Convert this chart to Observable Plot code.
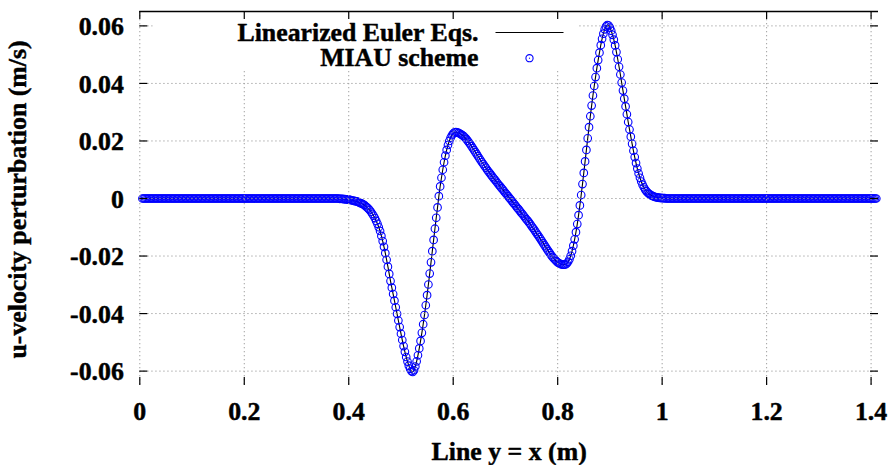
<!DOCTYPE html>
<html>
<head>
<meta charset="utf-8">
<script src="https://cdn.jsdelivr.net/npm/d3@7"></script>
<script src="https://cdn.jsdelivr.net/npm/@observablehq/plot@0.6"></script>
<style>
  html, body { margin: 0; padding: 0; background: #fff; }
  #chart svg { display: block; }
</style>
</head>
<body>
<div id="chart"></div>
<script>
// ---- data ----
const xStep = 0.0025;
// u-velocity perturbation along the line y = x, sampled every xStep
const flatLeftStart = 0.005;
const flatLeft = [
0,0,0,0,0,0,0,0,0,0,0,0,0,0,0,0,0,0,0,0,
0,0,0,0,0,0,0,0,0,0,0,0,0,0,0,0,0,0,0,0,
0,0,0,0,0,0,0,0,0,0,0,0,0,0,0,0,0,0,0,0,
0,0,0,0,0,0,0,0,0,0,0,0,0,0,0,0,0,0,0,0,
0,0,0,0,0,0,0,0,0,0,0,0,0,0,0,0,0,0,0,0,
0,0,0,0,0,0,0,0,0,0,0,0,0,0,0,0,0,0,0,0,
0,0,0,0,0,0,0,0,0,0,0,0,0,0,0,0,0,0,0,0,
0,0,0,0,0,0,0,0,0,0,0
];
const pulseStart = 0.3825;
const pulse = [
-0.0001,-0.0001,-0.0001,
-0.0002,-0.0002,-0.0003,-0.0003,
-0.0004,-0.0005,-0.0006,-0.0007,
-0.0008,-0.0009,-0.0010,-0.0012,
-0.0014,-0.0016,-0.0018,-0.0020,
-0.0023,-0.0027,-0.0031,-0.0035,
-0.0040,-0.0046,-0.0053,-0.0060,
-0.0068,-0.0078,-0.0088,-0.0100,
-0.0113,-0.0130,-0.0148,-0.0168,
-0.0190,-0.0213,-0.0237,-0.0262,
-0.0287,-0.0310,-0.0332,-0.0355,
-0.0378,-0.0401,-0.0424,-0.0447,
-0.0470,-0.0492,-0.0513,-0.0533,
-0.0551,-0.0567,-0.0581,-0.0592,
-0.0600,-0.0603,-0.0597,-0.0584,
-0.0566,-0.0545,-0.0521,-0.0495,
-0.0467,-0.0437,-0.0405,-0.0371,
-0.0336,-0.0299,-0.0261,-0.0222,
-0.0183,-0.0144,-0.0105,-0.0067,
-0.0031,0.0008,0.0042,0.0072,
0.0100,0.0126,0.0149,0.0169,
0.0186,0.0200,0.0211,0.0220,
0.0226,0.0230,0.0231,0.0230,
0.0228,0.0226,0.0223,0.0220,
0.0217,0.0212,0.0207,0.0201,
0.0195,0.0189,0.0182,0.0175,
0.0168,0.0161,0.0154,0.0147,
0.0140,0.0133,0.0126,0.0120,
0.0113,0.0107,0.0100,0.0094,
0.0088,0.0082,0.0076,0.0070,
0.0065,0.0059,0.0053,0.0047,
0.0042,0.0036,0.0031,0.0025,
0.0019,0.0014,0.0008,0.0002,
-0.0003,-0.0009,-0.0015,-0.0020,
-0.0026,-0.0032,-0.0037,-0.0043,
-0.0049,-0.0054,-0.0060,-0.0066,
-0.0072,-0.0077,-0.0083,-0.0089,
-0.0096,-0.0102,-0.0108,-0.0115,
-0.0122,-0.0128,-0.0135,-0.0142,
-0.0149,-0.0156,-0.0163,-0.0170,
-0.0177,-0.0184,-0.0190,-0.0197,
-0.0203,-0.0208,-0.0213,-0.0218,
-0.0222,-0.0225,-0.0227,-0.0229,
-0.0230,-0.0230,-0.0229,-0.0226,
-0.0220,-0.0211,-0.0199,-0.0183,
-0.0164,-0.0142,-0.0117,-0.0089,
-0.0058,-0.0024,0.0012,0.0050,
0.0089,0.0129,0.0169,0.0209,
0.0248,0.0286,0.0323,0.0358,
0.0391,0.0422,0.0453,0.0481,
0.0507,0.0533,0.0555,0.0573,
0.0588,0.0598,0.0603,0.0601,
0.0594,0.0583,0.0569,0.0552,
0.0532,0.0509,0.0484,0.0458,
0.0431,0.0403,0.0375,0.0347,
0.0320,0.0293,0.0266,0.0240,
0.0215,0.0190,0.0166,0.0144,
0.0123,0.0104,0.0087,0.0072,
0.0059,0.0048,0.0039,0.0031,
0.0025,0.0020,0.0016,0.0013,
0.0010,0.0008,0.0006,0.0005,
0.0004,0.0003,0.0002,0.0002,
0.0001,0.0001,0.0001,0.0000
];
const flatRightStart = 1.01;
const flatRight = [
0,0,0,0,0,0,0,0,0,0,0,0,0,0,0,0,0,0,0,0,
0,0,0,0,0,0,0,0,0,0,0,0,0,0,0,0,0,0,0,0,
0,0,0,0,0,0,0,0,0,0,0,0,0,0,0,0,0,0,0,0,
0,0,0,0,0,0,0,0,0,0,0,0,0,0,0,0,0,0,0,0,
0,0,0,0,0,0,0,0,0,0,0,0,0,0,0,0,0,0,0,0,
0,0,0,0,0,0,0,0,0,0,0,0,0,0,0,0,0,0,0,0,
0,0,0,0,0,0,0,0,0,0,0,0,0,0,0,0,0,0,0,0,
0,0,0,0,0,0,0,0,0,0,0,0,0,0,0,0,0,0,0,0,
0
];

const xDomain = [0, 1.4142];
const yDomain = [-0.065, 0.065];
const xTicks = [0, 0.2, 0.4, 0.6, 0.8, 1.0, 1.2, 1.4];
const xTickLabels = ["0", "0.2", "0.4", "0.6", "0.8", "1", "1.2", "1.4"];
const yTicks = [-0.06, -0.04, -0.02, 0, 0.02, 0.04, 0.06];
const yTickLabels = ["-0.06", "-0.04", "-0.02", "0", "0.02", "0.04", "0.06"];
const seriesNames = ["Linearized Euler Eqs.", "MIAU scheme"];
const xTitle = "Line y = x (m)";
const yTitle = "u-velocity perturbation (m/s)";

// ---- build table ----
const segments = [[flatLeftStart, flatLeft], [pulseStart, pulse], [flatRightStart, flatRight]];
const points = segments.flatMap(([x0, vals]) => vals.map((u, i) => ({x: x0 + i * xStep, u})));

// ---- layout ----
const W = 891, H = 465;
const mL = 139.3, mR = 13, mT = 11, mB = 80;
const pw = W - mL - mR, ph = H - mT - mB;
const tick = 8;
const FS = 25.8;
const blue = "#0000ff";
const txt = {fontSize: FS, fontWeight: "bold", fill: "#000", stroke: "#000", strokeWidth: 0.45};
const gridStyle = {stroke: "#a0a0a0", strokeWidth: 1, strokeDasharray: "1.3,2.7"};
const lineSymbol = {draw(ctx) { ctx.moveTo(-34, 0); ctx.lineTo(34, 0); }};

const chart = Plot.plot({
  width: W, height: H,
  marginLeft: mL, marginRight: mR, marginTop: mT, marginBottom: mB,
  x: {domain: xDomain, axis: null},
  y: {domain: yDomain, axis: null},
  style: {fontFamily: "'Liberation Serif', 'Times New Roman', serif", fontWeight: "bold", background: "#fff", color: "#000"},
  marks: [
    Plot.line(points, {x: "x", y: "u", stroke: "#000", strokeWidth: 1.1}),
    Plot.dot(points, {x: "x", y: "u", r: 3.8, stroke: blue, strokeWidth: 1.1, fill: "none"}),
    Plot.ruleX(xTicks, {x: d => d, ...gridStyle}),
    Plot.ruleY(yTicks, {y: d => d, ...gridStyle}),
    // opaque key box
    Plot.frame({fill: "#fff", stroke: "none", insetLeft: 13, insetRight: 300, insetTop: 0, insetBottom: 315}),
    // ticks (inward, mirrored)
    Plot.ruleX(xTicks, {x: d => d, insetTop: ph - tick, stroke: "#000", strokeWidth: 1.2}),
    Plot.ruleX(xTicks, {x: d => d, insetBottom: ph - tick, stroke: "#000", strokeWidth: 1.2}),
    Plot.ruleY(yTicks, {y: d => d, insetRight: pw - tick, stroke: "#000", strokeWidth: 1.2}),
    Plot.ruleY(yTicks, {y: d => d, insetLeft: pw - tick, stroke: "#000", strokeWidth: 1.2}),
    // top border
    Plot.ruleY([yDomain[1]], {y: d => d, stroke: "#000", strokeWidth: 1.3}),
    // tick labels
    Plot.text(xTicks, {x: d => d, text: (d, i) => xTickLabels[i], frameAnchor: "bottom", lineAnchor: "bottom", dy: 34, ...txt}),
    Plot.text(yTicks, {y: d => d, text: (d, i) => yTickLabels[i], frameAnchor: "left", textAnchor: "end", lineAnchor: "middle", dx: -16, dy: 1, ...txt}),
    // axis titles
    Plot.text([xTitle], {frameAnchor: "bottom", textAnchor: "middle", lineAnchor: "bottom", dy: 74, ...txt}),
    Plot.text([yTitle], {frameAnchor: "left", textAnchor: "middle", rotate: -90, lineAnchor: "bottom", dx: 25.5 - mL, dy: 1, ...txt}),
    // key
    Plot.text([seriesNames[0]], {frameAnchor: "top-left", textAnchor: "end", lineAnchor: "bottom", dx: 478 - mL, dy: 40.7 - mT, ...txt}),
    Plot.text([seriesNames[1]], {frameAnchor: "top-left", textAnchor: "end", lineAnchor: "bottom", dx: 478 - mL, dy: 65.7 - mT, ...txt}),
    Plot.dot([seriesNames[0]], {frameAnchor: "top-left", dx: 529 - mL, dy: 32 - mT, symbol: lineSymbol, stroke: "#000", strokeWidth: 1.1, fill: "none"}),
    Plot.dot([seriesNames[1]], {frameAnchor: "top-left", dx: 529 - mL, dy: 57.7 - mT, r: 3.6, stroke: blue, strokeWidth: 1.1, fill: "none"}),
    Plot.dot([seriesNames[1]], {frameAnchor: "top-left", dx: 529 - mL, dy: 57.7 - mT, r: 0.6, fill: blue})
  ]
});
document.getElementById("chart").append(chart);
</script>
</body>
</html>
